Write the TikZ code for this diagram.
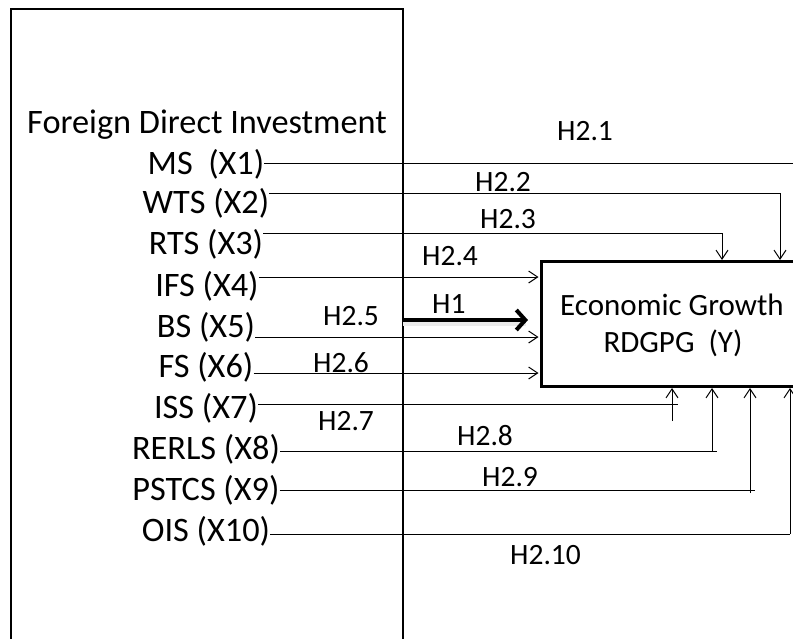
\documentclass[tikz,border=0pt]{standalone}
\usepackage{fontspec}
\setmainfont{Carlito}
\usetikzlibrary{arrows.meta, positioning}

\begin{document}
\begin{tikzpicture}[x=1pt, y=-1pt,
  >={Straight Barb[length=9pt,width=12pt]},
  varlabel/.style={anchor=base, inner sep=0pt, font=\fontsize{34.3}{40}\selectfont},
  hyplabel/.style={anchor=base west, inner sep=0pt, font=\fontsize{29.5}{35}\selectfont},
  link/.style={line width=1pt}]
  \useasboundingbox (0,0) rectangle (793,638);
  \clip (0,0) rectangle (793,638);
  % Left frame (open at the bottom)
  \draw[line width=2.8pt] (11,660) -- (11,9) -- (403,9) -- (403,660);
  % Dependent variable box
  \node[draw, line width=3pt, anchor=north west, minimum width=280pt,
        minimum height=125pt, inner sep=0pt] (econ) at (540,260) {};
  \node[anchor=base, inner sep=0pt, font=\fontsize{31}{36}\selectfont] (econtop) at (672,315) {Economic Growth};
  \node[anchor=base, inner sep=0pt, font=\fontsize{31}{36}\selectfont] (econbot) at (673,352) {RDGPG~~(Y)};
  % Independent variables
  \node[varlabel] (fdi) at (207,133) {Foreign Direct Investment};
  \node[varlabel] (ms) at (206,174) {MS~~(X1)};
  \node[varlabel] (wts) at (206,213) {WTS (X2)};
  \node[varlabel] (rts) at (206,254) {RTS (X3)};
  \node[varlabel] (ifs) at (207,296) {IFS (X4)};
  \node[varlabel] (bs) at (206,337) {BS (X5)};
  \node[varlabel] (fs) at (206,377) {FS (X6)};
  \node[varlabel] (iss) at (206,418) {ISS (X7)};
  \node[varlabel] (rerls) at (206,459) {RERLS (X8)};
  \node[varlabel] (pstcs) at (206,500) {PSTCS (X9)};
  \node[varlabel] (ois) at (206,541) {OIS (X10)};
  % Line ends
  \coordinate (h21) at (800,163);
  \coordinate (h22) at (780,193);
  \coordinate (h23) at (722,233);
  \coordinate (h24) at (540,277);
  \coordinate (h25) at (540,337);
  \coordinate (h26) at (540,373);
  \coordinate (h1) at (403,320);
  \coordinate (h27a) at (678,404);
  \coordinate (h27b) at (672,421);
  \coordinate (h28a) at (717,451);
  \coordinate (h28b) at (712,451);
  \coordinate (h29a) at (755,490);
  \coordinate (h29b) at (750,493);
  \coordinate (h210) at (790,534);
  % Paths into the top of the box
  \draw[link] (ms.east |- h21) -- (h21);
  \draw[link,->] (wts.east |- h22) -| (h22 |- econ.north);
  \draw[link,->] (rts.east |- h23) -| (h23 |- econ.north);
  % Paths into the left side
  \draw[link,->] (ifs.east |- h24) -- ([xshift=-1.5pt]h24);
  \draw[link,->] (bs.east |- h25) -- ([xshift=-1.5pt]h25);
  \draw[link,->] (fs.east |- h26) -- ([xshift=-1.5pt]h26);
  % Direct effect
  \draw[line width=5pt, black!8, shorten >=14pt] ([yshift=-3pt]h1) -- ([yshift=-3pt]h1 -| econ.west);
  \draw[line width=4pt, -{Straight Barb[length=9pt,width=20pt]}, shorten >=12pt] (h1) -- (h1 -| econ.west);
  % Paths into the bottom of the box
  \draw[link] (iss.east |- h27a) -- (h27a);
  \draw[link,->] (h27b) -- (h27b |- econ.south);
  \draw[link] (rerls.east |- h28a) -- (h28a);
  \draw[link,->] (h28b) -- (h28b |- econ.south);
  \draw[link] (pstcs.east |- h29a) -- (h29a);
  \draw[link,->] (h29b) -- (h29b |- econ.south);
  \draw[link] (ois.east |- h210) -- (h210);
  \draw[link,->] (h210) -- (h210 |- econ.south);
  % Hypothesis labels
  \node[hyplabel] (l21) at (557,140) {H2.1};
  \node[hyplabel] (l22) at (475,191) {H2.2};
  \node[hyplabel] (l23) at (480,228) {H2.3};
  \node[hyplabel] (l24) at (422,265) {H2.4};
  \node[hyplabel] (l1) at (432,313) {H1};
  \node[hyplabel] (l25) at (323,325) {H2.5};
  \node[hyplabel] (l26) at (313,372) {H2.6};
  \node[hyplabel] (l27) at (318,430) {H2.7};
  \node[hyplabel] (l28) at (457,445) {H2.8};
  \node[hyplabel] (l29) at (482,486) {H2.9};
  \node[hyplabel] (l210) at (510,564) {H2.10};
\end{tikzpicture}
\end{document}
